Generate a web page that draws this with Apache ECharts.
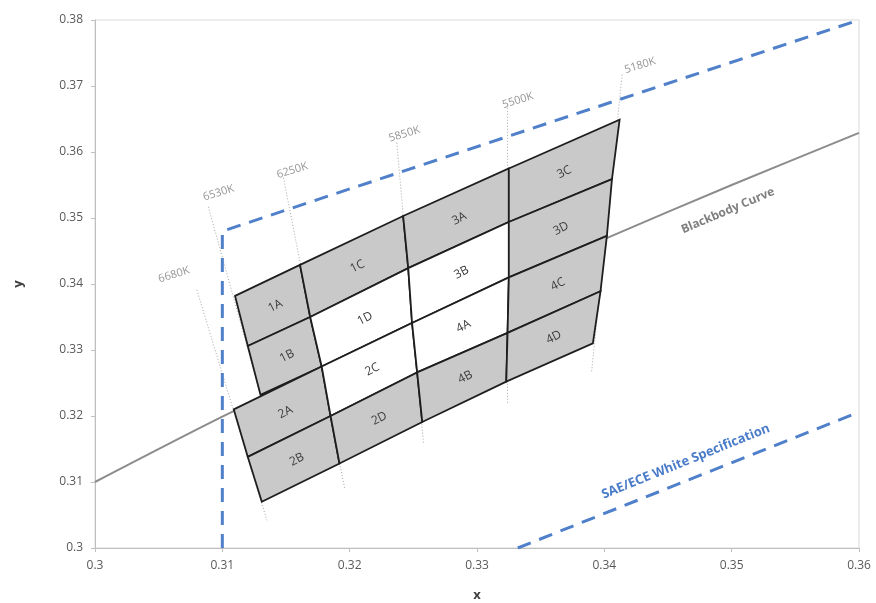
<!DOCTYPE html>
<html><head><meta charset="utf-8">
<script src="https://cdn.jsdelivr.net/npm/echarts@6/dist/echarts.min.js"></script>
<style>html,body{margin:0;padding:0;background:#fff}#c{width:876px;height:603px}</style>
</head><body><div id="c"></div>
<script>
// ---- data ----
// CCT boundary vertices (x, y) from top row line to bottom row line
const col6680 = [[0.3109,0.3210],[0.3120,0.3138],[0.3131,0.3070]];          // rows 2..4 (bins 2A/2B left edge)
const col6530 = [[0.3110,0.3382],[0.3120,0.3306],[0.3130,0.3232]];          // rows 0..2 (bins 1A/1B left edge)
const col6250 = [[0.3161,0.3429],[0.3169,0.3350],[0.3178,0.3275],[0.3185,0.3200],[0.3192,0.3128]];
const col5850 = [[0.3242,0.3503],[0.3246,0.3424],[0.3249,0.3341],[0.3253,0.3266],[0.3257,0.3191]];
const col5500 = [[0.3325,0.3575],[0.3325,0.3494],[0.3325,0.3410],[0.3324,0.3326],[0.3323,0.3252]];
const col5180 = [[0.3412,0.3649],[0.3406,0.3559],[0.3402,0.3473],[0.3397,0.3389],[0.3391,0.3310]];

const binNames  = ['1A','1B','2A','2B','1C','1D','2C','2D','3A','3B','4A','4B','3C','3D','4C','4D'];
const binShaded = [1,1,1,1, 1,0,0,1, 1,0,0,1, 1,1,1,1];

const cctNames  = ['6680K','6530K','6250K','5850K','5500K','5180K'];
const cctTop    = [[0.3080,0.3391],[0.3089,0.3517],[0.3148,0.3561],[0.3237,0.3614],[0.3324,0.3667],[0.3414,0.3717]];
const cctBottom = [[0.3135,0.3042],[0.3130,0.3232],[0.3196,0.3091],[0.3258,0.3158],[0.3324,0.3218],[0.3390,0.3267]];
const cctLabelPos = [[0.3062,0.3414],[0.3097,0.3538],[0.3155,0.3572],[0.3243,0.3627],[0.3332,0.3678],[0.3428,0.3731]];

const bbX = [0.30,0.31,0.32,0.33,0.34,0.35,0.36];
const bbY = [0.3100,0.3199,0.3292,0.3382,0.3468,0.3550,0.3629];

const specUpper = [[0.31,0.30],[0.31,0.3480],[0.36,0.3800]];
const specLower = [[0.3332,0.30],[0.36,0.3206]];

const textNotes = [
  {text:'Blackbody Curve', pos:[0.3497,0.3511], rot:23, color:'#7f7f7f', size:12},
  {text:'SAE/ECE White Specification', pos:[0.3464,0.3131], rot:22, color:'#4a7cc8', size:13}
];

// ---- build cell polygons from boundary arrays ----
const colsRight = [col6250, col5850, col5500, col5180];
const colsLeft  = [null, col6250, col5850, col5500];
const cellPolys = [];
for (let c = 0; c < 4; c++) {
  for (let r = 0; r < 4; r++) {
    let a, b;
    if (c === 0) {
      if (r < 2) { a = col6530[r]; b = col6530[r+1]; }
      else { a = col6680[r-2]; b = col6680[r-1]; }
    } else { a = colsLeft[c][r]; b = colsLeft[c][r+1]; }
    const R = colsRight[c];
    cellPolys.push([a, R[r], R[r+1], b]);
  }
}

const chart = echarts.init(document.getElementById('c'), null, {renderer:'canvas'});
const FONT = '"Open Sans", "DejaVu Sans", sans-serif';
const series = [];

cctNames.forEach((n, i) => {
  series.push({
    type:'line', data:[cctTop[i], cctBottom[i]], showSymbol:false, silent:true, z:1,
    lineStyle:{color:'#a6a6a6', width:1, type:[1,2]}
  });
});

series.push({
  type:'line', data: bbX.map((x,i)=>[x,bbY[i]]), showSymbol:false, smooth:0.3, silent:true, z:2,
  lineStyle:{color:'#8c8c8c', width:2}
});
series.push({
  type:'line', data: specUpper, showSymbol:false, silent:true, z:2,
  lineStyle:{color:'#4f80c9', width:3, type:[14,9]}
});
series.push({
  type:'line', data: specLower, showSymbol:false, silent:true, z:2,
  lineStyle:{color:'#4f80c9', width:3, type:[14,9]}
});

series.push({
  type:'custom', z:5, silent:true,
  data: binNames.map((n,i)=>[i]),
  encode:{x:-1, y:-1},
  renderItem: function(params, api){
    const i = params.dataIndex;
    const pts = cellPolys[i].map(p => api.coord(p));
    const cx = pts.reduce((s,p)=>s+p[0],0)/4 + 2;
    const cy = pts.reduce((s,p)=>s+p[1],0)/4;
    return {type:'group', children:[
      {type:'polygon', shape:{points:pts}, style:{fill: binShaded[i] ? '#c9c9c9' : '#ffffff', stroke:'#1e1e1e', lineWidth:1.8}},
      {type:'text', x:cx, y:cy, rotation: 27*Math.PI/180,
       style:{text: binNames[i], fill:'#3a3a3a', fontSize:12, fontFamily:FONT, align:'center', verticalAlign:'middle'}}
    ]};
  }
});

series.push({
  type:'custom', z:6, silent:true,
  data: cctNames.map((n,i)=>[i]),
  encode:{x:-1, y:-1},
  renderItem: function(params, api){
    const i = params.dataIndex;
    const p = api.coord(cctLabelPos[i]);
    return {type:'text', x:p[0], y:p[1], rotation: 17*Math.PI/180,
      style:{text: cctNames[i], fill:'#949494', fontSize:11, fontFamily:FONT, align:'center', verticalAlign:'middle'}};
  }
});

series.push({
  type:'custom', z:6, silent:true,
  data: textNotes.map((n,i)=>[i]),
  encode:{x:-1, y:-1},
  renderItem: function(params, api){
    const t = textNotes[params.dataIndex];
    const p = api.coord(t.pos);
    return {type:'text', x:p[0], y:p[1], rotation: t.rot*Math.PI/180,
      style:{text: t.text, fill:t.color, fontSize:t.size, fontWeight:'bold', fontFamily:FONT, align:'center', verticalAlign:'middle'}};
  }
});

chart.setOption({
  animation:false,
  backgroundColor:'#ffffff',
  grid:{left:95, right:17, top:20, bottom:55, containLabel:false, outerBoundsMode:'none',
        show:true, borderColor:'#d9d9d9', borderWidth:1},
  xAxis:{type:'value', min:0.3, max:0.36, interval:0.01,
    name:'x', nameLocation:'middle', nameGap:41,
    nameTextStyle:{fontSize:13, fontWeight:'bold', color:'#404040', fontFamily:FONT},
    splitLine:{show:false},
    axisLine:{show:true, lineStyle:{color:'#bfbfbf'}},
    axisTick:{show:true, length:4, lineStyle:{color:'#bfbfbf'}},
    axisLabel:{color:'#595959', fontSize:12, margin:12, fontFamily:FONT}},
  yAxis:{type:'value', min:0.3, max:0.38, interval:0.01,
    name:'y', nameLocation:'middle', nameGap:70,
    nameTextStyle:{fontSize:13, fontWeight:'bold', color:'#404040', fontFamily:FONT},
    splitLine:{show:false},
    axisLine:{show:true, lineStyle:{color:'#bfbfbf'}},
    axisTick:{show:true, length:4, lineStyle:{color:'#bfbfbf'}},
    axisLabel:{color:'#595959', fontSize:12, margin:12, fontFamily:FONT}},
  series: series
});
</script></body></html>
